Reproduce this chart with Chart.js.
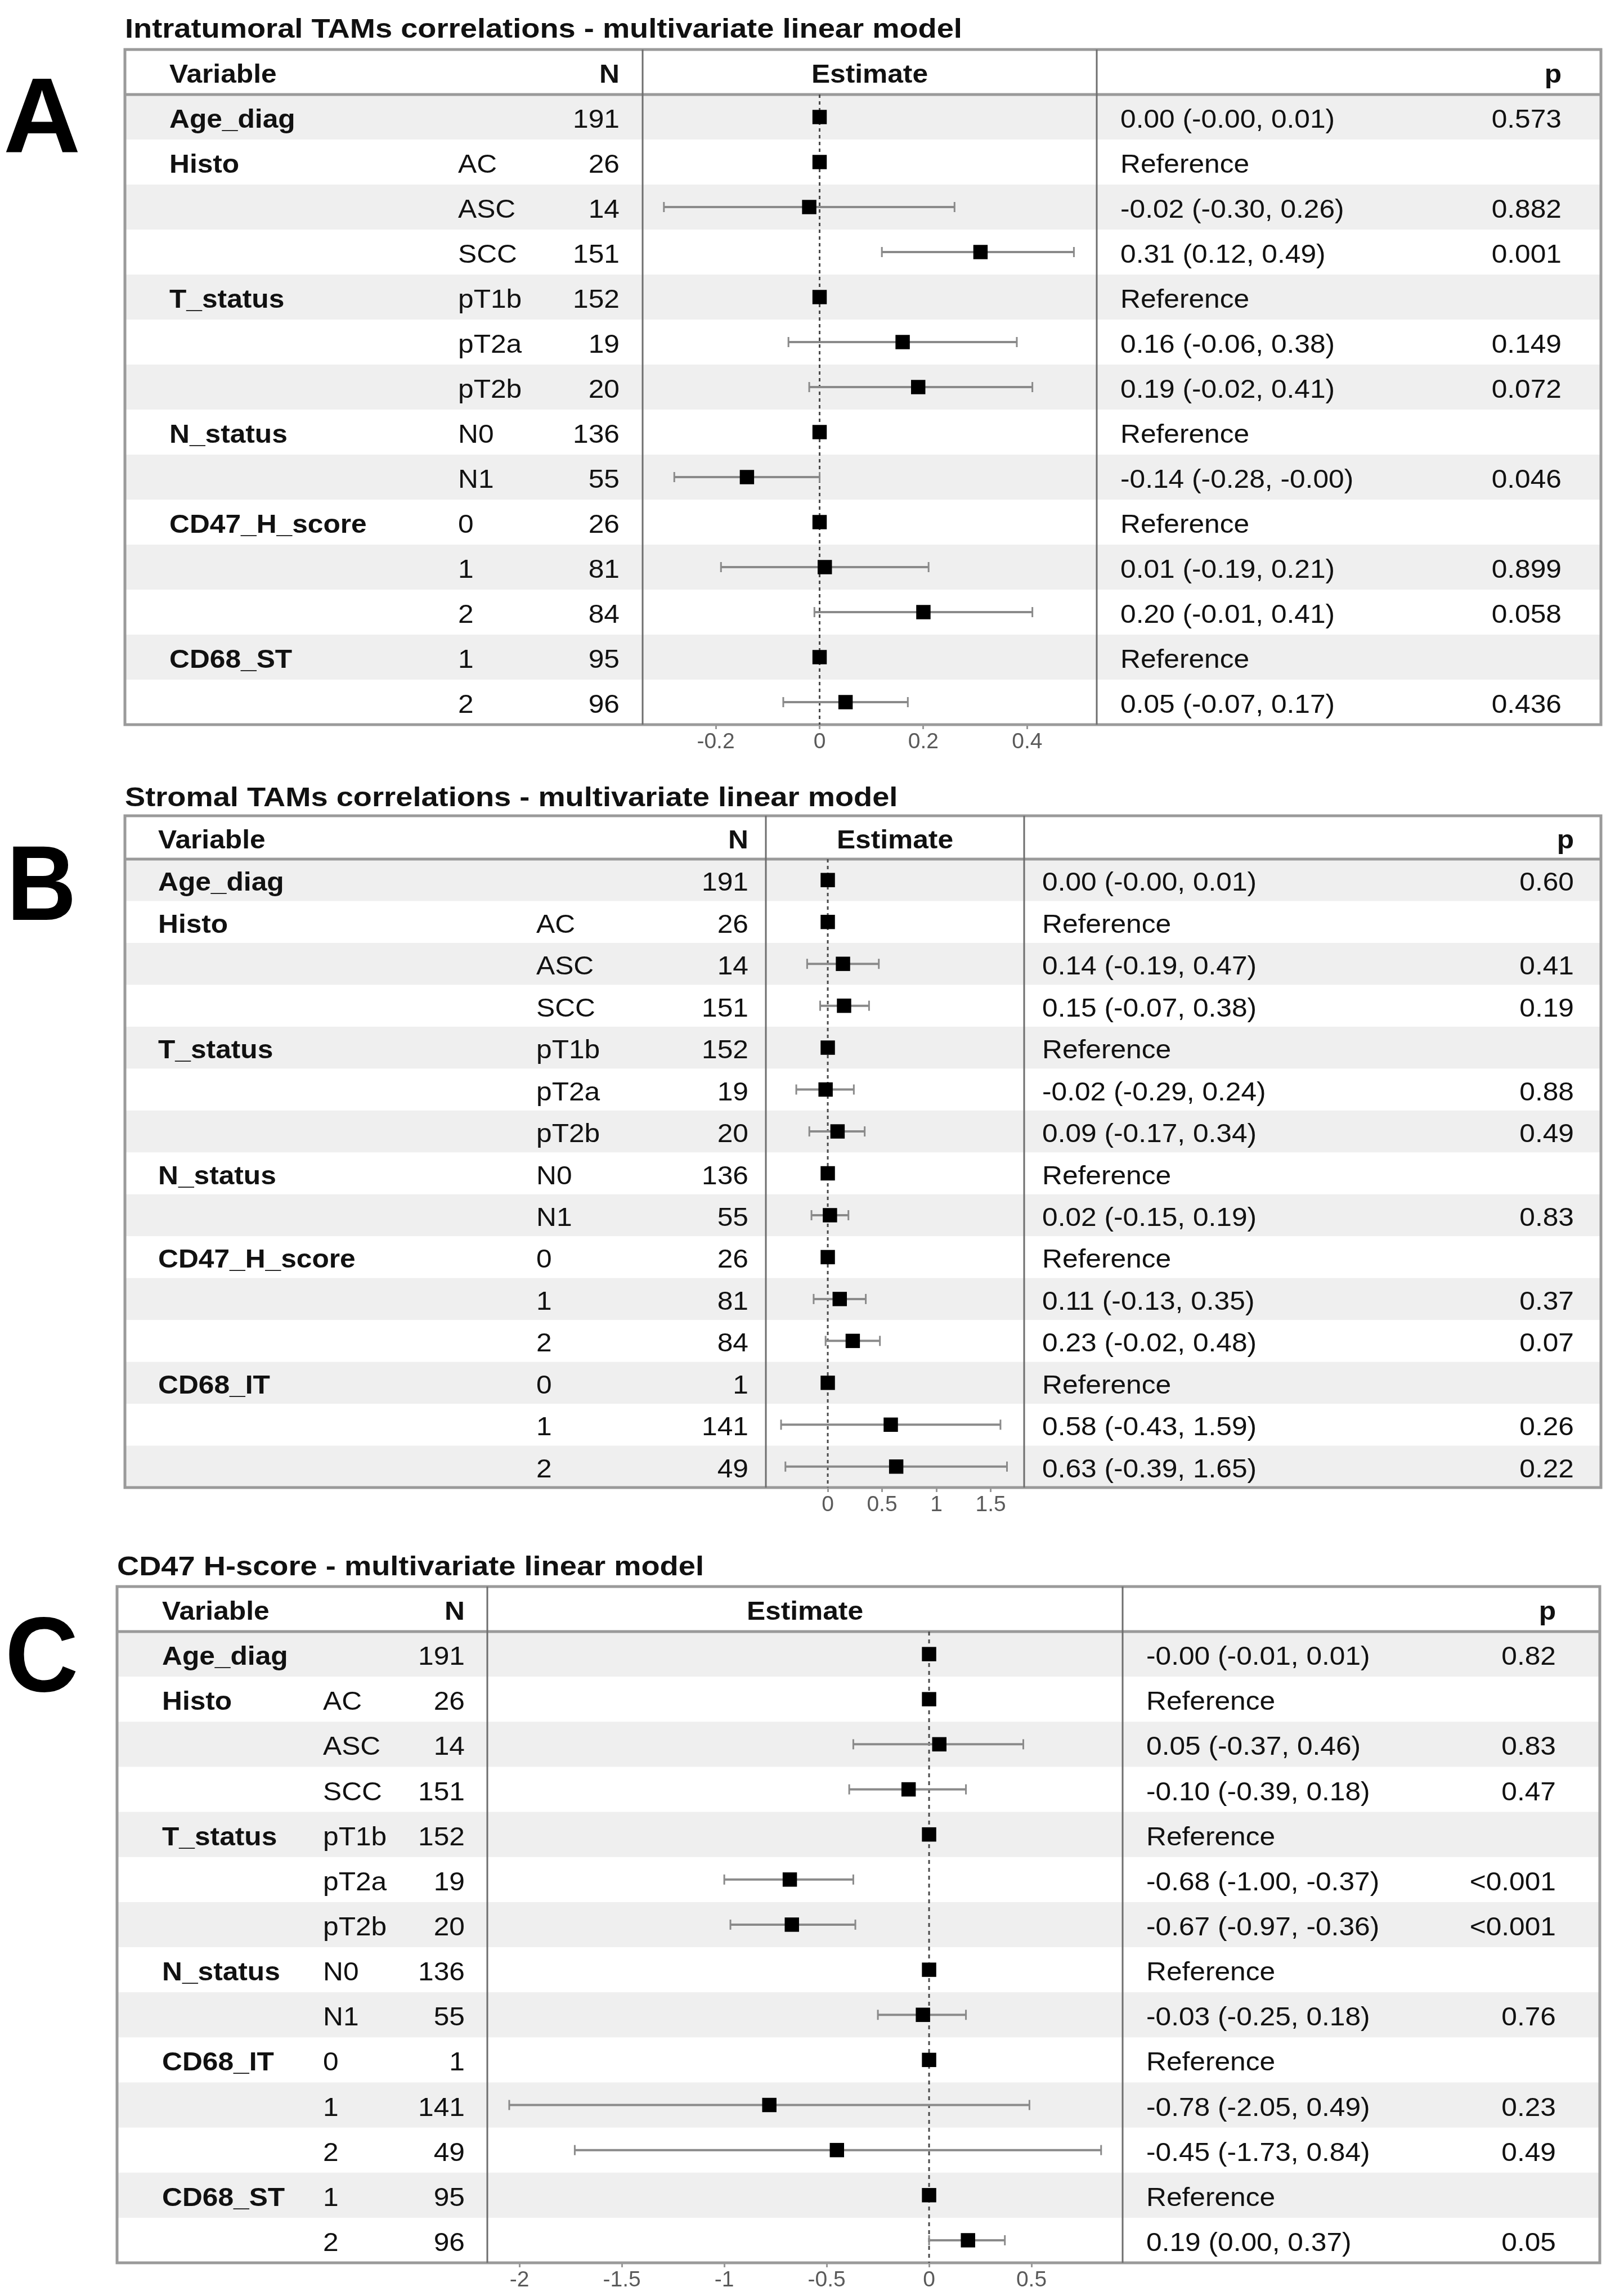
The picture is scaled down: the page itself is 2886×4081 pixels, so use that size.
<!DOCTYPE html>
<html>
<head>
<meta charset="utf-8">
<title>Multivariate linear models - forest plots</title>
<script src="https://cdn.jsdelivr.net/npm/chart.js@4.4.1/dist/chart.umd.min.js"></script>
<style>
  body { margin: 0; background: #fff; }
  #page { position: relative; width: 2886px; height: 4081px; overflow: hidden; background: #fff; }
  .title { position: absolute; font: bold 48px "Liberation Sans", Arial, sans-serif; line-height: 1; white-space: nowrap; color: #111;
           transform: scaleX(1.13); transform-origin: left top; }
  .letter { position: absolute; font: bold 190px "Liberation Sans", Arial, sans-serif; line-height: 1; color: #000; transform-origin: left top; }
  canvas { position: absolute; left: 0; }
</style>
</head>
<body>
<div id="page">
  <div class="letter" style="left:6px;top:109px">A</div>
  <div class="title" style="left:222px;top:27px">Intratumoral TAMs correlations - multivariate linear model</div>
  <canvas id="chartA"></canvas>

  <div class="letter" style="left:12px;top:1474px;transform:scaleX(0.9)">B</div>
  <div class="title" style="left:222px;top:1393px">Stromal TAMs correlations - multivariate linear model</div>
  <canvas id="chartB"></canvas>

  <div class="letter" style="left:9px;top:2845px;transform:scaleX(0.95)">C</div>
  <div class="title" style="left:208px;top:2760px">CD47 H-score - multivariate linear model</div>
  <canvas id="chartC"></canvas>
</div>

<script>
/* =========================
   DATA
   ========================= */

/* A - intratumoral TAMs */
const varsA   = ["Age_diag", "Histo", "", "", "T_status", "", "", "N_status", "", "CD47_H_score", "", "", "CD68_ST", ""];
const levelsA = ["", "AC", "ASC", "SCC", "pT1b", "pT2a", "pT2b", "N0", "N1", "0", "1", "2", "1", "2"];
const nA      = [191, 26, 14, 151, 152, 19, 20, 136, 55, 26, 81, 84, 95, 96];
const estA    = [0.00, 0, -0.02, 0.31, 0, 0.16, 0.19, 0, -0.14, 0, 0.01, 0.20, 0, 0.05];
const loA     = [-0.00, null, -0.30, 0.12, null, -0.06, -0.02, null, -0.28, null, -0.19, -0.01, null, -0.07];
const hiA     = [0.01, null, 0.26, 0.49, null, 0.38, 0.41, null, -0.00, null, 0.21, 0.41, null, 0.17];
const pA      = ["0.573", "", "0.882", "0.001", "", "0.149", "0.072", "", "0.046", "", "0.899", "0.058", "", "0.436"];
const ticksA  = [-0.2, 0, 0.2, 0.4];

/* B - stromal TAMs */
const varsB   = ["Age_diag", "Histo", "", "", "T_status", "", "", "N_status", "", "CD47_H_score", "", "", "CD68_IT", "", ""];
const levelsB = ["", "AC", "ASC", "SCC", "pT1b", "pT2a", "pT2b", "N0", "N1", "0", "1", "2", "0", "1", "2"];
const nB      = [191, 26, 14, 151, 152, 19, 20, 136, 55, 26, 81, 84, 1, 141, 49];
const estB    = [0.00, 0, 0.14, 0.15, 0, -0.02, 0.09, 0, 0.02, 0, 0.11, 0.23, 0, 0.58, 0.63];
const loB     = [-0.00, null, -0.19, -0.07, null, -0.29, -0.17, null, -0.15, null, -0.13, -0.02, null, -0.43, -0.39];
const hiB     = [0.01, null, 0.47, 0.38, null, 0.24, 0.34, null, 0.19, null, 0.35, 0.48, null, 1.59, 1.65];
const pB      = ["0.60", "", "0.41", "0.19", "", "0.88", "0.49", "", "0.83", "", "0.37", "0.07", "", "0.26", "0.22"];
const ticksB  = [0, 0.5, 1, 1.5];

/* C - CD47 H-score */
const varsC   = ["Age_diag", "Histo", "", "", "T_status", "", "", "N_status", "", "CD68_IT", "", "", "CD68_ST", ""];
const levelsC = ["", "AC", "ASC", "SCC", "pT1b", "pT2a", "pT2b", "N0", "N1", "0", "1", "2", "1", "2"];
const nC      = [191, 26, 14, 151, 152, 19, 20, 136, 55, 1, 141, 49, 95, 96];
const estC    = [-0.00, 0, 0.05, -0.10, 0, -0.68, -0.67, 0, -0.03, 0, -0.78, -0.45, 0, 0.19];
const loC     = [-0.01, null, -0.37, -0.39, null, -1.00, -0.97, null, -0.25, null, -2.05, -1.73, null, 0.00];
const hiC     = [0.01, null, 0.46, 0.18, null, -0.37, -0.36, null, 0.18, null, 0.49, 0.84, null, 0.37];
const pC      = ["0.82", "", "0.83", "0.47", "", "<0.001", "<0.001", "", "0.76", "", "0.23", "0.49", "", "0.05"];
const ticksC  = [-2, -1.5, -1, -0.5, 0, 0.5];

/* =========================
   LAYOUT (page pixels)
   ========================= */

const FONT = '"Liberation Sans", Arial, sans-serif';
const AXIS_H = 70;
const TEXT_SX = 1.08;   // table text in the figure is a little wider than Arial

const panels = [
  { id: "chartA", vars: varsA, levels: levelsA, n: nA, est: estA, lo: loA, hi: hiA, p: pA, ticks: ticksA,
    xMin: -0.341, xMax: 0.534, frameL: 222, frameR: 2845, frameT: 88, headY: 168, axisY: 1288,
    div1: 1142, div2: 1949, varX: 301, levelX: 814, nRight: 1101, estX: 1991, pRight: 2775, dash: [6, 6] },
  { id: "chartB", vars: varsB, levels: levelsB, n: nB, est: estB, lo: loB, hi: hiB, p: pB, ticks: ticksB,
    xMin: -0.570, xMax: 1.808, frameL: 222, frameR: 2845, frameT: 1450, headY: 1527, axisY: 2644,
    div1: 1361, div2: 1820, varX: 281, levelX: 953, nRight: 1330, estX: 1852, pRight: 2797, dash: [6, 6] },
  { id: "chartC", vars: varsC, levels: levelsC, n: nC, est: estC, lo: loC, hi: hiC, p: pC, ticks: ticksC,
    xMin: -2.157, xMax: 0.945, frameL: 208, frameR: 2843, frameT: 2820, headY: 2900, axisY: 4022,
    div1: 866, div2: 1995, varX: 288, levelX: 574, nRight: 826, estX: 2037, pRight: 2765, dash: [7, 7] }
];

/* keeps "-0.00" as printed in the tables */
function fmt(v) {
  return (v < 0 || Object.is(v, -0) ? "-" : "") + Math.abs(v).toFixed(2);
}

function line(ctx, x1, y1, x2, y2) {
  ctx.beginPath();
  ctx.moveTo(x1, y1);
  ctx.lineTo(x2, y2);
  ctx.stroke();
}

function text(ctx, s, x, y, align) {
  ctx.save();
  ctx.translate(x, y);
  ctx.scale(TEXT_SX, 1);
  ctx.textAlign = align;
  ctx.fillText(s, 0, 0);
  ctx.restore();
}

/* =========================
   TABLE + ERROR BAR PLUGIN
   ========================= */

function tablePlugin(pn) {
  return {
    id: "forestTable",
    beforeDraw(chart) {
      const ctx = chart.ctx;
      const a = chart.chartArea;
      const ys = chart.scales.y;
      const top = pn.frameT - pn.canvasTop;
      const rowH = Math.abs(ys.getPixelForValue(1) - ys.getPixelForValue(0));

      ctx.save();
      ctx.fillStyle = "#efefef";
      pn.n.forEach((_, i) => {
        if (i % 2) return;
        const y = ys.getPixelForValue(i);
        ctx.fillRect(pn.frameL, y - rowH / 2, pn.frameR - pn.frameL, rowH);
      });

      ctx.strokeStyle = "#9a9a9a";
      ctx.lineWidth = 5;
      ctx.strokeRect(pn.frameL, top, pn.frameR - pn.frameL, a.bottom - top);
      line(ctx, pn.frameL, a.top, pn.frameR, a.top);
      ctx.strokeStyle = "#6e6e6e";
      ctx.lineWidth = 3;
      line(ctx, a.left, top, a.left, a.bottom);
      line(ctx, a.right, top, a.right, a.bottom);

      // header
      const hy = (top + a.top) / 2 + 19;
      ctx.fillStyle = "#111";
      ctx.font = "bold 46px " + FONT;
      text(ctx, "Variable", pn.varX, hy, "left");
      text(ctx, "N", pn.nRight, hy, "right");
      text(ctx, "p", pn.pRight, hy, "right");
      text(ctx, "Estimate", (a.left + a.right) / 2, hy, "center");

      // rows
      pn.n.forEach((n, i) => {
        const y = ys.getPixelForValue(i) + 19;
        const isRef = pn.lo[i] === null;
        ctx.font = "bold 46px " + FONT;
        text(ctx, pn.vars[i], pn.varX, y, "left");
        ctx.font = "46px " + FONT;
        text(ctx, pn.levels[i], pn.levelX, y, "left");
        text(ctx, isRef ? "Reference"
          : fmt(pn.est[i]) + " (" + fmt(pn.lo[i]) + ", " + fmt(pn.hi[i]) + ")", pn.estX, y, "left");
        text(ctx, String(n), pn.nRight, y, "right");
        text(ctx, pn.p[i], pn.pRight, y, "right");
      });
      ctx.restore();
    },
    beforeDatasetsDraw(chart) {
      const ctx = chart.ctx;
      const a = chart.chartArea;
      const xs = chart.scales.x, ys = chart.scales.y;
      const x0 = xs.getPixelForValue(0);

      ctx.save();
      ctx.strokeStyle = "#4a4a4a";
      ctx.lineWidth = 3;
      ctx.setLineDash(pn.dash);
      line(ctx, x0, a.top, x0, a.bottom);
      ctx.setLineDash([]);

      ctx.strokeStyle = "#8a8a8a";
      pn.lo.forEach((lo, i) => {
        if (lo === null) return;
        const y = ys.getPixelForValue(i);
        const x1 = xs.getPixelForValue(lo), x2 = xs.getPixelForValue(pn.hi[i]);
        ctx.lineWidth = 4;
        line(ctx, x1, y, x2, y);
        ctx.lineWidth = 3;
        line(ctx, x1, y - 9, x1, y + 9);
        line(ctx, x2, y - 9, x2, y + 9);
      });
      ctx.restore();
    }
  };
}

/* =========================
   CHARTS
   ========================= */

panels.forEach(pn => {
  const canvas = document.getElementById(pn.id);
  pn.canvasTop = pn.frameT - 10;
  const h = pn.axisY - pn.canvasTop + AXIS_H;
  canvas.width = 2886;
  canvas.height = h;
  canvas.style.top = pn.canvasTop + "px";
  canvas.style.width = "2886px";
  canvas.style.height = h + "px";

  new Chart(canvas, {
    type: "scatter",
    data: {
      datasets: [{
        data: pn.est.map((v, i) => ({ x: v, y: i })),
        pointStyle: "rect",
        pointRadius: 18,
        pointHoverRadius: 18,
        backgroundColor: "#000",
        borderWidth: 0
      }]
    },
    options: {
      responsive: false,
      animation: false,
      devicePixelRatio: 1,
      events: [],
      layout: { padding: { left: pn.div1, right: 2886 - pn.div2, top: pn.headY - pn.canvasTop, bottom: 0 } },
      scales: {
        x: {
          type: "linear",
          min: pn.xMin,
          max: pn.xMax,
          afterBuildTicks: s => { s.ticks = pn.ticks.map(v => ({ value: v })); },
          afterFit: s => { s.height = AXIS_H; },
          border: { display: false },
          grid: { drawOnChartArea: false, drawTicks: true, tickLength: 8, tickWidth: 3, tickColor: "#999" },
          ticks: { color: "#5a5a5a", padding: 0, font: { family: FONT, size: 39 }, callback: v => String(v), maxRotation: 0 }
        },
        y: { type: "linear", min: -0.5, max: pn.n.length - 0.5, reverse: true, display: false }
      },
      plugins: { legend: { display: false }, tooltip: { enabled: false } }
    },
    plugins: [tablePlugin(pn)]
  });
});
</script>
</body>
</html>
